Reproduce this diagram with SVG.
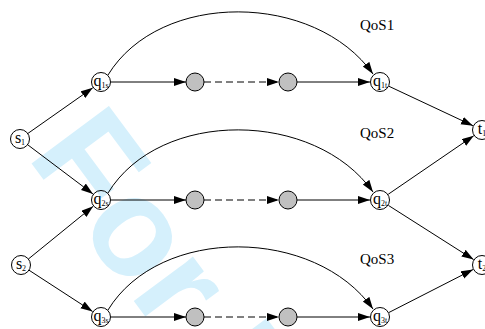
<svg xmlns="http://www.w3.org/2000/svg" width="485" height="329" viewBox="0 0 485 329">
<style>
.n{fill:none;stroke:#000;stroke-width:1}
.g{fill:#c0c0c0;stroke:#000;stroke-width:1}
.e{fill:none;stroke:#000;stroke-width:1}
.d{fill:none;stroke:#000;stroke-width:1;stroke-dasharray:7,4}
.t{font-family:"Liberation Serif","Times New Roman",serif;font-size:16px;fill:#000}
.s{font-size:8px}
.q{font-family:"Liberation Serif","Times New Roman",serif;font-size:15px;fill:#000}
.wm{font-family:"Liberation Sans",Arial,sans-serif;font-weight:bold;font-size:140px;fill:#d5f0fc}
</style>
<defs>
<marker id="a" markerUnits="userSpaceOnUse" markerWidth="13" markerHeight="9" refX="12" refY="4" orient="auto">
<path d="M0,0 L12,4 L0,8 z" fill="#000"/>
</marker>
</defs>
<rect width="485" height="329" fill="#fff"/>
<text class="wm" transform="translate(26,156) rotate(53.4)">For P</text>

<g id="connectors">
<line class="e" x1="27.8" y1="133.5" x2="92.8" y2="87.8" marker-end="url(#a)"/>
<line class="e" x1="27.6" y1="144.7" x2="93" y2="194" marker-end="url(#a)"/>
<line class="e" x1="28.4" y1="259" x2="93.2" y2="206.3" marker-end="url(#a)"/>
<line class="e" x1="29" y1="270.2" x2="92.6" y2="311.5" marker-end="url(#a)"/>

<line class="e" x1="111" y1="82" x2="186" y2="82" marker-end="url(#a)"/>
<line class="d" x1="204" y1="82" x2="279" y2="82" marker-end="url(#a)"/>
<line class="e" x1="297" y1="82" x2="370" y2="82" marker-end="url(#a)"/>
<line class="e" x1="111" y1="200" x2="186" y2="200" marker-end="url(#a)"/>
<line class="d" x1="204" y1="200" x2="279" y2="200" marker-end="url(#a)"/>
<line class="e" x1="297" y1="200" x2="370" y2="200" marker-end="url(#a)"/>
<line class="e" x1="111" y1="317" x2="186" y2="317" marker-end="url(#a)"/>
<line class="d" x1="204" y1="317" x2="279" y2="317" marker-end="url(#a)"/>
<line class="e" x1="297" y1="317" x2="370" y2="317" marker-end="url(#a)"/>

<path class="e" d="M108,75 C160,-10 315,-8 373,74" marker-end="url(#a)"/>
<path class="e" d="M108,193 C160,108 315,110 373,192" marker-end="url(#a)"/>
<path class="e" d="M108,310 C160,225 315,227 373,309" marker-end="url(#a)"/>

<line class="e" x1="389" y1="86.3" x2="473" y2="125.7" marker-end="url(#a)"/>
<line class="e" x1="388.2" y1="194.3" x2="473.8" y2="135.7" marker-end="url(#a)"/>
<line class="e" x1="388.4" y1="205.4" x2="473.6" y2="259.6" marker-end="url(#a)"/>
<line class="e" x1="388.9" y1="312.5" x2="473.1" y2="269.5" marker-end="url(#a)"/>
</g>

<g id="s1"><circle class="n" cx="20" cy="139" r="9.5"/><text class="t" x="20" y="143" text-anchor="middle">s<tspan class="s" dy="2">1</tspan></text></g>
<g id="s2"><circle class="n" cx="21" cy="265" r="9.5"/><text class="t" x="21" y="269" text-anchor="middle">s<tspan class="s" dy="2">2</tspan></text></g>

<g id="q1s"><circle class="n" cx="101" cy="82" r="9.5"/><text class="t" x="101" y="86" text-anchor="middle">q<tspan class="s" dy="2">1s</tspan></text></g>
<g id="q2s"><circle class="n" cx="101" cy="200" r="9.5"/><text class="t" x="101" y="204" text-anchor="middle">q<tspan class="s" dy="2">2s</tspan></text></g>
<g id="q3s"><circle class="n" cx="101" cy="317" r="9.5"/><text class="t" x="101" y="321" text-anchor="middle">q<tspan class="s" dy="2">3s</tspan></text></g>

<g id="g11"><circle class="g" cx="195" cy="82" r="9"/></g>
<g id="g12"><circle class="g" cx="288" cy="82" r="9"/></g>
<g id="g21"><circle class="g" cx="195" cy="200" r="9"/></g>
<g id="g22"><circle class="g" cx="288" cy="200" r="9"/></g>
<g id="g31"><circle class="g" cx="195" cy="317" r="9"/></g>
<g id="g32"><circle class="g" cx="288" cy="317" r="9"/></g>

<g id="q1t"><circle class="n" cx="380" cy="82" r="9.5"/><text class="t" x="380" y="86" text-anchor="middle">q<tspan class="s" dy="2">1t</tspan></text></g>
<g id="q2t"><circle class="n" cx="380" cy="200" r="9.5"/><text class="t" x="380" y="204" text-anchor="middle">q<tspan class="s" dy="2">2t</tspan></text></g>
<g id="q3t"><circle class="n" cx="380" cy="317" r="9.5"/><text class="t" x="380" y="321" text-anchor="middle">q<tspan class="s" dy="2">3t</tspan></text></g>

<g id="t1"><circle class="n" cx="482" cy="130" r="9.5"/><text class="t" x="482" y="134" text-anchor="middle">t<tspan class="s" dy="2">1</tspan></text></g>
<g id="t2"><circle class="n" cx="482" cy="265" r="9.5"/><text class="t" x="482" y="269" text-anchor="middle">t<tspan class="s" dy="2">2</tspan></text></g>

<g id="labels">
<text class="q" x="360" y="30">QoS1</text>
<text class="q" x="360" y="138">QoS2</text>
<text class="q" x="360" y="264">QoS3</text>
</g>
</svg>
